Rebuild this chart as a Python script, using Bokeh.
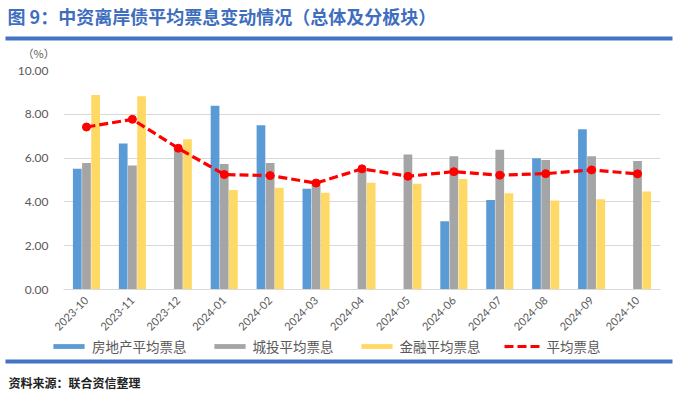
import numpy as np
from math import pi
from bokeh.plotting import figure
from bokeh.layouts import column
from bokeh.models import (ColumnDataSource, Range1d, Legend, LegendItem,
                          NumeralTickFormatter, FixedTicker)
from bokeh.core.properties import value
from bokeh.embed import file_html
from bokeh.resources import INLINE

# ---------------- data ----------------
months = ["2023-10", "2023-11", "2023-12", "2024-01", "2024-02", "2024-03", "2024-04",
          "2024-05", "2024-06", "2024-07", "2024-08", "2024-09", "2024-10"]
real_estate = [5.51, 6.67, np.nan, 8.39, 7.50, 4.60, np.nan, np.nan, 3.12, 4.09, 5.99, 7.32, np.nan]
lgfv = [5.78, 5.66, 6.40, 5.73, 5.78, 4.87, 5.45, 6.17, 6.08, 6.38, 5.91, 6.08, 5.87]
financial = [8.88, 8.82, 6.86, 4.54, 4.65, 4.42, 4.87, 4.83, 5.05, 4.39, 4.06, 4.12, 4.47]
average = [7.42, 7.77, 6.45, 5.25, 5.20, 4.86, 5.51, 5.17, 5.38, 5.22, 5.29, 5.46, 5.28]
y_ticks = [0, 2, 4, 6, 8, 10]

series_names = ["房地产平均票息", "城投平均票息", "金融平均票息", "平均票息"]
title_text = "图 9：中资离岸债平均票息变动情况（总体及分板块）"
unit_text = "（%）"
source_text = "资料来源：联合资信整理"

idx = np.arange(len(months), dtype=float)
src = ColumnDataSource(dict(i=idx,
                            re=np.array(real_estate, dtype=float),
                            lg=np.array(lgfv, dtype=float),
                            fi=np.array(financial, dtype=float),
                            avg=np.array(average, dtype=float)))

W, H = 677, 394
CJK = "Noto Sans CJK SC"
RULE_BLUE = "#4472C4"
TITLE_BLUE = "#3F6EBF"
BLUE, GRAY, YELLOW, RED = "#5B9BD5", "#A5A5A5", "#FFD966", "#FF0000"
LINE_W, LINE_DASH, MARK_SIZE = 3.2, "9 4", 8


def blank_fig(h):
    f = figure(width=W, height=h, x_range=Range1d(0, W), y_range=Range1d(h, 0),
               output_backend="svg", toolbar_location=None, min_border=0,
               x_axis_location=None, y_axis_location=None, frame_align=False)
    f.outline_line_color = None
    f.grid.visible = False
    f.background_fill_color = "white"
    f.border_fill_color = "white"
    return f


# ---------------- header ----------------
HH = 60
hdr = blank_fig(HH)
hdr.text(x=[7], y=[15], text=[title_text], text_font=value(CJK), text_font_size="18px",
         text_font_style="bold", text_color=TITLE_BLUE, text_baseline="middle",
         text_align="left")
hdr.quad(left=[5], right=[672], top=[36], bottom=[40], fill_color=RULE_BLUE, line_color=None)
hdr.text(x=[22], y=[52], text=[unit_text], text_font=value(CJK), text_font_size="11px",
         text_color="#595959", text_baseline="middle", text_align="left")

# ---------------- main chart ----------------
MH = 277
p = figure(x_range=Range1d(-0.5, len(months) - 0.5), y_range=Range1d(0, 10), width=W, height=MH,
           output_backend="svg", toolbar_location=None, frame_align=False,
           min_border_left=63, min_border_right=17, min_border_top=10, min_border_bottom=46)
p.outline_line_color = None
p.background_fill_color = "white"
p.border_fill_color = "white"

OFF, BW = 0.2, 0.19
p.vbar(x=idx - OFF, top=src.data["re"], width=BW, fill_color=BLUE, line_color=None)
p.vbar(x="i", top="lg", width=BW, source=src, fill_color=GRAY, line_color=None)
p.vbar(x=idx + OFF, top=src.data["fi"], width=BW, fill_color=YELLOW, line_color=None)
p.line(x="i", y="avg", source=src, line_color=RED, line_width=LINE_W, line_dash=LINE_DASH)
p.scatter(x="i", y="avg", source=src, marker="circle", size=MARK_SIZE,
          fill_color=RED, line_color=RED)

p.xgrid.grid_line_color = None
p.ygrid.grid_line_color = "#D9D9D9"
p.ygrid.grid_line_width = 1

p.yaxis.ticker = FixedTicker(ticks=y_ticks)
p.yaxis.formatter = NumeralTickFormatter(format="0.00")
p.yaxis.axis_line_color = None
p.yaxis.major_tick_line_color = None
p.yaxis.minor_tick_line_color = None
p.yaxis.major_tick_out = 0
p.yaxis.major_label_standoff = 15
p.yaxis.major_label_text_font = "Lato"
p.yaxis.major_label_text_font_size = "12px"
p.yaxis.major_label_text_color = "#595959"

p.xaxis.ticker = FixedTicker(ticks=list(range(len(months))))
p.xaxis.major_label_overrides = {i: m for i, m in enumerate(months)}
p.xaxis.axis_line_color = "#D9D9D9"
p.xaxis.major_tick_line_color = None
p.xaxis.minor_tick_line_color = None
p.xaxis.major_tick_out = 0
p.xaxis.major_label_standoff = 9
p.xaxis.major_label_orientation = pi / 4
p.xaxis.major_label_text_font = "Lato"
p.xaxis.major_label_text_font_size = "11px"
p.xaxis.major_label_text_color = "#595959"

# ---------------- footer (legend, rule, source) ----------------
FH = H - HH - MH
ftr = blank_fig(FH)
# legend swatches share the styles of the chart's renderers (they draw no marks)
nan1 = np.array([np.nan])
k_re = ftr.vbar(x=nan1, top=nan1, width=1, fill_color=BLUE, line_color=None)
k_lg = ftr.vbar(x=nan1, top=nan1, width=1, fill_color=GRAY, line_color=None)
k_fi = ftr.vbar(x=nan1, top=nan1, width=1, fill_color=YELLOW, line_color=None)
k_ln = ftr.line(x=nan1, y=nan1, line_color=RED, line_width=LINE_W, line_dash=LINE_DASH)
k_pt = ftr.scatter(x=nan1, y=nan1, marker="circle", size=MARK_SIZE, fill_color=RED, line_color=RED)
legend = Legend(items=[LegendItem(label=series_names[0], renderers=[k_re]),
                       LegendItem(label=series_names[1], renderers=[k_lg]),
                       LegendItem(label=series_names[2], renderers=[k_fi]),
                       LegendItem(label=series_names[3], renderers=[k_ln, k_pt])],
                orientation="horizontal", location=(49, FH - 19),
                glyph_width=39, glyph_height=6, label_standoff=4, spacing=23,
                label_height=16, padding=0, margin=0, border_line_color=None,
                background_fill_alpha=0,
                label_text_font=CJK, label_text_font_size="13.5px",
                label_text_color="#595959")
ftr.add_layout(legend, "center")
ftr.quad(left=[5], right=[672], top=[22], bottom=[26], fill_color=RULE_BLUE, line_color=None)
ftr.text(x=[8], y=[45], text=[source_text], text_font=value(CJK), text_font_size="12px",
         text_font_style="bold", text_color="#222222", text_baseline="middle",
         text_align="left")

layout = column(hdr, p, ftr, spacing=0)
open("out.html", "w").write(file_html(layout, INLINE))
